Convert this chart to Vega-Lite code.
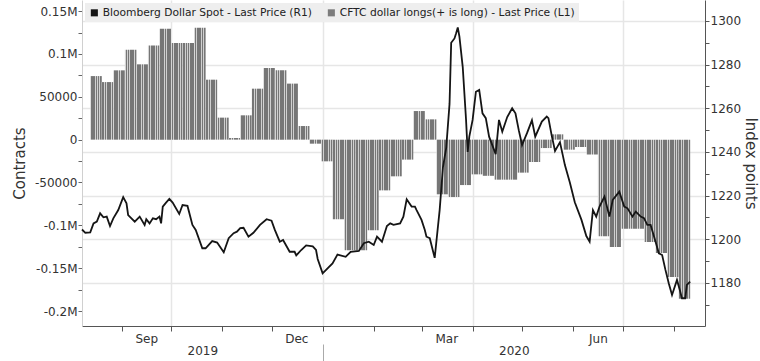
{
  "$schema": "https://vega.github.io/schema/vega-lite/v6.json",
  "width": 623,
  "height": 326,
  "autosize": "none",
  "padding": {"left": 82, "top": 0, "right": 55, "bottom": 35},
  "background": "white",
  "config": {"view": {"stroke": null}, "font": "DejaVu Sans"},
  "datasets": {
    "cftc": [
      {"from": "2019-08-13", "to": "2019-08-20", "value": 74200},
      {"from": "2019-08-20", "to": "2019-08-27", "value": 67200},
      {"from": "2019-08-27", "to": "2019-09-03", "value": 80900},
      {"from": "2019-09-03", "to": "2019-09-10", "value": 105000},
      {"from": "2019-09-10", "to": "2019-09-17", "value": 87900},
      {"from": "2019-09-17", "to": "2019-09-24", "value": 110000},
      {"from": "2019-09-24", "to": "2019-10-01", "value": 129500},
      {"from": "2019-10-01", "to": "2019-10-08", "value": 112700},
      {"from": "2019-10-08", "to": "2019-10-15", "value": 112700},
      {"from": "2019-10-15", "to": "2019-10-22", "value": 130700},
      {"from": "2019-10-22", "to": "2019-10-29", "value": 70000},
      {"from": "2019-10-29", "to": "2019-11-05", "value": 25700},
      {"from": "2019-11-05", "to": "2019-11-12", "value": 1900},
      {"from": "2019-11-12", "to": "2019-11-19", "value": 28400},
      {"from": "2019-11-19", "to": "2019-11-26", "value": 59500},
      {"from": "2019-11-26", "to": "2019-12-03", "value": 83600},
      {"from": "2019-12-03", "to": "2019-12-10", "value": 80900},
      {"from": "2019-12-10", "to": "2019-12-17", "value": 65400},
      {"from": "2019-12-17", "to": "2019-12-24", "value": 15900},
      {"from": "2019-12-24", "to": "2019-12-31", "value": -4700},
      {"from": "2019-12-31", "to": "2020-01-07", "value": -25300},
      {"from": "2020-01-07", "to": "2020-01-14", "value": -93000},
      {"from": "2020-01-14", "to": "2020-01-21", "value": -129200},
      {"from": "2020-01-21", "to": "2020-01-28", "value": -129200},
      {"from": "2020-01-28", "to": "2020-02-04", "value": -105800},
      {"from": "2020-02-04", "to": "2020-02-11", "value": -59200},
      {"from": "2020-02-11", "to": "2020-02-18", "value": -42800},
      {"from": "2020-02-18", "to": "2020-02-25", "value": -23300},
      {"from": "2020-02-25", "to": "2020-03-03", "value": 33400},
      {"from": "2020-03-03", "to": "2020-03-10", "value": 23700},
      {"from": "2020-03-10", "to": "2020-03-17", "value": -63800},
      {"from": "2020-03-17", "to": "2020-03-24", "value": -67000},
      {"from": "2020-03-24", "to": "2020-03-31", "value": -53000},
      {"from": "2020-03-31", "to": "2020-04-07", "value": -40500},
      {"from": "2020-04-07", "to": "2020-04-14", "value": -42200},
      {"from": "2020-04-14", "to": "2020-04-21", "value": -46700},
      {"from": "2020-04-21", "to": "2020-04-28", "value": -46700},
      {"from": "2020-04-28", "to": "2020-05-05", "value": -38500},
      {"from": "2020-05-05", "to": "2020-05-12", "value": -26100},
      {"from": "2020-05-12", "to": "2020-05-19", "value": -9800},
      {"from": "2020-05-19", "to": "2020-05-26", "value": 6200},
      {"from": "2020-05-26", "to": "2020-06-02", "value": -11700},
      {"from": "2020-06-02", "to": "2020-06-09", "value": -8600},
      {"from": "2020-06-09", "to": "2020-06-16", "value": -17200},
      {"from": "2020-06-16", "to": "2020-06-23", "value": -112800},
      {"from": "2020-06-23", "to": "2020-06-30", "value": -125300},
      {"from": "2020-06-30", "to": "2020-07-07", "value": -103900},
      {"from": "2020-07-07", "to": "2020-07-14", "value": -103900},
      {"from": "2020-07-14", "to": "2020-07-21", "value": -119500},
      {"from": "2020-07-21", "to": "2020-07-28", "value": -132300},
      {"from": "2020-07-28", "to": "2020-08-04", "value": -160300},
      {"from": "2020-08-04", "to": "2020-08-11", "value": -185600}
    ],
    "bdxy": [
      {"date": "2019-08-08", "value": 1204.5},
      {"date": "2019-08-10", "value": 1203.0},
      {"date": "2019-08-13", "value": 1203.2},
      {"date": "2019-08-15", "value": 1207.3},
      {"date": "2019-08-17", "value": 1208.1},
      {"date": "2019-08-19", "value": 1211.9},
      {"date": "2019-08-21", "value": 1210.1},
      {"date": "2019-08-23", "value": 1210.4},
      {"date": "2019-08-25", "value": 1206.1},
      {"date": "2019-08-27", "value": 1209.6},
      {"date": "2019-08-30", "value": 1213.4},
      {"date": "2019-09-02", "value": 1219.3},
      {"date": "2019-09-04", "value": 1216.5},
      {"date": "2019-09-05", "value": 1211.1},
      {"date": "2019-09-09", "value": 1208.1},
      {"date": "2019-09-12", "value": 1210.4},
      {"date": "2019-09-15", "value": 1206.6},
      {"date": "2019-09-16", "value": 1209.2},
      {"date": "2019-09-18", "value": 1207.3},
      {"date": "2019-09-20", "value": 1209.6},
      {"date": "2019-09-22", "value": 1209.2},
      {"date": "2019-09-24", "value": 1210.4},
      {"date": "2019-09-25", "value": 1207.3},
      {"date": "2019-09-26", "value": 1215.0},
      {"date": "2019-09-28", "value": 1216.8},
      {"date": "2019-09-30", "value": 1218.5},
      {"date": "2019-10-02", "value": 1216.8},
      {"date": "2019-10-06", "value": 1211.6},
      {"date": "2019-10-08", "value": 1215.7},
      {"date": "2019-10-11", "value": 1215.3},
      {"date": "2019-10-14", "value": 1206.6},
      {"date": "2019-10-16", "value": 1204.3},
      {"date": "2019-10-20", "value": 1195.9},
      {"date": "2019-10-22", "value": 1195.9},
      {"date": "2019-10-26", "value": 1199.2},
      {"date": "2019-10-29", "value": 1198.5},
      {"date": "2019-11-02", "value": 1194.1},
      {"date": "2019-11-05", "value": 1200.5},
      {"date": "2019-11-08", "value": 1202.8},
      {"date": "2019-11-10", "value": 1203.5},
      {"date": "2019-11-12", "value": 1205.1},
      {"date": "2019-11-14", "value": 1205.3},
      {"date": "2019-11-17", "value": 1201.2},
      {"date": "2019-11-20", "value": 1203.0},
      {"date": "2019-11-24", "value": 1206.6},
      {"date": "2019-11-28", "value": 1209.2},
      {"date": "2019-12-01", "value": 1208.5},
      {"date": "2019-12-03", "value": 1204.3},
      {"date": "2019-12-06", "value": 1198.9},
      {"date": "2019-12-08", "value": 1199.7},
      {"date": "2019-12-12", "value": 1194.3},
      {"date": "2019-12-15", "value": 1194.3},
      {"date": "2019-12-16", "value": 1192.6},
      {"date": "2019-12-19", "value": 1195.1},
      {"date": "2019-12-22", "value": 1197.2},
      {"date": "2019-12-26", "value": 1196.8},
      {"date": "2019-12-28", "value": 1195.1},
      {"date": "2019-12-29", "value": 1191.0},
      {"date": "2020-01-01", "value": 1184.4},
      {"date": "2020-01-04", "value": 1186.7},
      {"date": "2020-01-07", "value": 1189.0},
      {"date": "2020-01-10", "value": 1193.0},
      {"date": "2020-01-15", "value": 1192.0},
      {"date": "2020-01-18", "value": 1194.3},
      {"date": "2020-01-23", "value": 1194.7},
      {"date": "2020-01-26", "value": 1198.2},
      {"date": "2020-01-29", "value": 1198.9},
      {"date": "2020-02-01", "value": 1197.4},
      {"date": "2020-02-03", "value": 1201.2},
      {"date": "2020-02-06", "value": 1198.9},
      {"date": "2020-02-09", "value": 1206.1},
      {"date": "2020-02-11", "value": 1207.3},
      {"date": "2020-02-13", "value": 1206.6},
      {"date": "2020-02-17", "value": 1207.3},
      {"date": "2020-02-19", "value": 1210.4},
      {"date": "2020-02-21", "value": 1218.3},
      {"date": "2020-02-24", "value": 1215.0},
      {"date": "2020-02-26", "value": 1215.0},
      {"date": "2020-02-27", "value": 1213.4},
      {"date": "2020-03-01", "value": 1208.9},
      {"date": "2020-03-03", "value": 1204.3},
      {"date": "2020-03-04", "value": 1201.2},
      {"date": "2020-03-06", "value": 1200.5},
      {"date": "2020-03-09", "value": 1191.5},
      {"date": "2020-03-12", "value": 1213.4},
      {"date": "2020-03-14", "value": 1233.0},
      {"date": "2020-03-16", "value": 1242.0},
      {"date": "2020-03-18", "value": 1262.0},
      {"date": "2020-03-19", "value": 1290.0},
      {"date": "2020-03-21", "value": 1292.0},
      {"date": "2020-03-22", "value": 1294.4},
      {"date": "2020-03-23", "value": 1297.0},
      {"date": "2020-03-24", "value": 1292.8},
      {"date": "2020-03-26", "value": 1279.0},
      {"date": "2020-03-28", "value": 1255.0},
      {"date": "2020-03-29", "value": 1240.0},
      {"date": "2020-03-30", "value": 1247.0},
      {"date": "2020-04-01", "value": 1254.7},
      {"date": "2020-04-03", "value": 1267.6},
      {"date": "2020-04-05", "value": 1268.4},
      {"date": "2020-04-07", "value": 1257.7},
      {"date": "2020-04-09", "value": 1255.5},
      {"date": "2020-04-11", "value": 1247.0},
      {"date": "2020-04-15", "value": 1239.0},
      {"date": "2020-04-17", "value": 1254.7},
      {"date": "2020-04-19", "value": 1249.3},
      {"date": "2020-04-22", "value": 1256.0},
      {"date": "2020-04-25", "value": 1260.0},
      {"date": "2020-04-27", "value": 1257.7},
      {"date": "2020-04-29", "value": 1250.0},
      {"date": "2020-05-01", "value": 1243.2},
      {"date": "2020-05-04", "value": 1248.6},
      {"date": "2020-05-07", "value": 1254.5},
      {"date": "2020-05-09", "value": 1247.0},
      {"date": "2020-05-13", "value": 1253.9},
      {"date": "2020-05-16", "value": 1256.2},
      {"date": "2020-05-17", "value": 1255.5},
      {"date": "2020-05-19", "value": 1247.5},
      {"date": "2020-05-21", "value": 1240.5},
      {"date": "2020-05-24", "value": 1244.5},
      {"date": "2020-05-27", "value": 1234.0},
      {"date": "2020-05-30", "value": 1226.0},
      {"date": "2020-06-02", "value": 1217.0},
      {"date": "2020-06-06", "value": 1209.0},
      {"date": "2020-06-09", "value": 1201.5},
      {"date": "2020-06-11", "value": 1198.9},
      {"date": "2020-06-13", "value": 1213.4},
      {"date": "2020-06-15", "value": 1210.4},
      {"date": "2020-06-17", "value": 1215.0},
      {"date": "2020-06-20", "value": 1219.6},
      {"date": "2020-06-23", "value": 1210.4},
      {"date": "2020-06-25", "value": 1218.0},
      {"date": "2020-06-29", "value": 1221.8},
      {"date": "2020-07-02", "value": 1215.0},
      {"date": "2020-07-04", "value": 1214.2},
      {"date": "2020-07-07", "value": 1210.4},
      {"date": "2020-07-09", "value": 1212.7},
      {"date": "2020-07-12", "value": 1210.4},
      {"date": "2020-07-14", "value": 1209.7},
      {"date": "2020-07-16", "value": 1206.6},
      {"date": "2020-07-18", "value": 1206.6},
      {"date": "2020-07-21", "value": 1198.9},
      {"date": "2020-07-23", "value": 1193.6},
      {"date": "2020-07-25", "value": 1192.8},
      {"date": "2020-07-27", "value": 1186.0},
      {"date": "2020-07-29", "value": 1179.9},
      {"date": "2020-07-31", "value": 1174.5},
      {"date": "2020-08-03", "value": 1181.4},
      {"date": "2020-08-05", "value": 1176.0},
      {"date": "2020-08-06", "value": 1173.0},
      {"date": "2020-08-08", "value": 1173.0},
      {"date": "2020-08-09", "value": 1179.1},
      {"date": "2020-08-11", "value": 1180.6}
    ]
  },
  "layer": [
    {
      "data": {"name": "cftc"},
      "mark": {
        "type": "rect",
        "fill": {
          "gradient": "linear", "x1": 0, "y1": 0, "x2": 1, "y2": 0,
          "stops": [
            {"offset": 0, "color": "#d4d4d4"}, {"offset": 0.06, "color": "#d4d4d4"},
            {"offset": 0.06, "color": "#767676"}, {"offset": 0.2, "color": "#767676"},
            {"offset": 0.2, "color": "#d0d0d0"}, {"offset": 0.26, "color": "#d0d0d0"},
            {"offset": 0.26, "color": "#767676"}, {"offset": 0.4, "color": "#767676"},
            {"offset": 0.4, "color": "#d0d0d0"}, {"offset": 0.46, "color": "#d0d0d0"},
            {"offset": 0.46, "color": "#767676"}, {"offset": 0.6, "color": "#767676"},
            {"offset": 0.6, "color": "#d0d0d0"}, {"offset": 0.66, "color": "#d0d0d0"},
            {"offset": 0.66, "color": "#767676"}, {"offset": 0.8, "color": "#767676"},
            {"offset": 0.8, "color": "#d0d0d0"}, {"offset": 0.86, "color": "#d0d0d0"},
            {"offset": 0.86, "color": "#767676"}, {"offset": 1, "color": "#767676"}
          ]
        }
      },
      "encoding": {
        "x": {
          "field": "from", "type": "temporal",
          "scale": {"type": "utc", "domain": [{"year": 2019, "month": 8, "date": 8, "utc": true}, {"year": 2020, "month": 8, "date": 20, "utc": true}]},
          "axis": {
            "orient": "bottom",
            "title": null,
            "values": [
              {"year": 2019, "month": 9, "date": 1, "utc": true},
              {"year": 2019, "month": 9, "date": 16, "utc": true},
              {"year": 2019, "month": 10, "date": 1, "utc": true},
              {"year": 2019, "month": 11, "date": 1, "utc": true},
              {"year": 2019, "month": 12, "date": 1, "utc": true},
              {"year": 2019, "month": 12, "date": 16, "utc": true},
              {"year": 2020, "month": 1, "date": 1, "utc": true},
              {"year": 2020, "month": 2, "date": 1, "utc": true},
              {"year": 2020, "month": 3, "date": 1, "utc": true},
              {"year": 2020, "month": 3, "date": 16, "utc": true},
              {"year": 2020, "month": 4, "date": 1, "utc": true},
              {"year": 2020, "month": 5, "date": 1, "utc": true},
              {"year": 2020, "month": 6, "date": 1, "utc": true},
              {"year": 2020, "month": 6, "date": 16, "utc": true},
              {"year": 2020, "month": 7, "date": 1, "utc": true},
              {"year": 2020, "month": 8, "date": 1, "utc": true}
            ],
            "labelExpr": "utcdate(datum.value) == 16 ? utcFormat(datum.value, '%b') : ''",
            "labelOverlap": false,
            "labelFlush": false,
            "labelFontSize": 12,
            "labelColor": "#333333",
            "labelPadding": 2,
            "tickSize": 5,
            "tickColor": "#555555",
            "tickOpacity": {"condition": {"test": "utcdate(datum.value) == 1", "value": 1}, "value": 0},
            "grid": true,
            "gridColor": "#e6e6e6",
            "gridWidth": 1.5,
            "gridOpacity": {"condition": {"test": "utcdate(datum.value) == 1 && utcmonth(datum.value) % 3 == 0", "value": 1}, "value": 0},
            "domainColor": "#555555"
          }
        },
        "x2": {"field": "to"},
        "y": {
          "field": "value", "type": "quantitative",
          "scale": {"domain": [-217500, 163000], "nice": false, "zero": false},
          "axis": {
            "orient": "left",
            "title": "Contracts",
            "titleFontSize": 15,
            "titleFontWeight": "normal",
            "titleColor": "#333333",
            "titlePadding": 7,
            "values": [-200000, -175000, -150000, -125000, -100000, -75000, -50000, -25000, 0, 25000, 50000, 75000, 100000, 125000, 150000],
            "labelExpr": "datum.value % 50000 != 0 ? '' : (abs(datum.value) >= 100000 ? (datum.value / 1000000) + 'M' : datum.value + '')",
            "labelFontSize": 12,
            "labelColor": "#333333",
            "labelPadding": 1,
            "tickSize": 4,
            "tickColor": "#666666",
            "grid": false,
            "domainColor": "#d0d0d0"
          }
        },
        "y2": {"datum": 0}
      }
    },
    {
      "data": {"name": "bdxy"},
      "mark": {"type": "line", "strokeWidth": 1.8},
      "encoding": {
        "x": {
          "field": "date", "type": "temporal",
          "scale": {"type": "utc", "domain": [{"year": 2019, "month": 8, "date": 8, "utc": true}, {"year": 2020, "month": 8, "date": 20, "utc": true}]},
          "axis": {
            "orient": "bottom",
            "title": null,
            "offset": 18,
            "domain": false,
            "grid": false,
            "values": [
              {"year": 2019, "month": 10, "date": 20, "utc": true},
              {"year": 2020, "month": 1, "date": 1, "utc": true},
              {"year": 2020, "month": 4, "date": 26, "utc": true}
            ],
            "labelExpr": "utcmonth(datum.value) == 0 ? '' : utcFormat(datum.value, '%Y')",
            "labelOverlap": false,
            "labelFlush": false,
            "labelFontSize": 12,
            "labelColor": "#333333",
            "labelPadding": -16,
            "tickSize": 17,
            "tickColor": "#aaaaaa",
            "tickOpacity": {"condition": {"test": "utcmonth(datum.value) == 0", "value": 1}, "value": 0}
          }
        },
        "y": {
          "field": "value", "type": "quantitative",
          "scale": {"domain": [1160.3, 1309.6], "nice": false, "zero": false},
          "axis": {
            "orient": "right",
            "title": "Index points",
            "titleFontSize": 15,
            "titleFontWeight": "normal",
            "titleColor": "#333333",
            "titlePadding": 2,
            "values": [1170, 1180, 1190, 1200, 1210, 1220, 1230, 1240, 1250, 1260, 1270, 1280, 1290, 1300],
            "labelExpr": "datum.value % 20 == 0 ? datum.value + '' : ''",
            "labelFontSize": 12,
            "labelColor": "#333333",
            "labelPadding": 1,
            "tickSize": 4,
            "tickColor": "#555555",
            "grid": true,
            "gridColor": "#e6e6e6",
            "gridWidth": 1.5,
            "gridOpacity": {"condition": {"test": "datum.value % 20 == 0", "value": 1}, "value": 0},
            "domainColor": "#555555"
          }
        },
        "color": {
          "datum": "Bloomberg Dollar Spot - Last Price (R1)",
          "scale": {"domain": ["Bloomberg Dollar Spot - Last Price (R1)", "CFTC dollar longs(+ is long) - Last Price (L1)"], "range": ["#151515", "#7c7c7c"]},
          "legend": {
            "title": null,
            "orient": "top-left",
            "direction": "horizontal",
            "offset": 3,
            "padding": 4,
            "fillColor": "#eeeeee",
            "symbolType": "square",
            "symbolSize": 50,
            "symbolStrokeWidth": 0,
            "labelFontSize": 10.7,
            "labelColor": "#222222",
            "labelLimit": 400,
            "labelOffset": 3,
            "columnPadding": 14,
            "encode": {"symbols": {"update": {"fill": {"scale": "color", "field": "value"}, "fillOpacity": {"value": 1}, "strokeWidth": {"value": 0}}}}
          }
        }
      }
    }
  ],
  "resolve": {"scale": {"y": "independent"}, "axis": {"x": "independent", "y": "independent"}}
}
